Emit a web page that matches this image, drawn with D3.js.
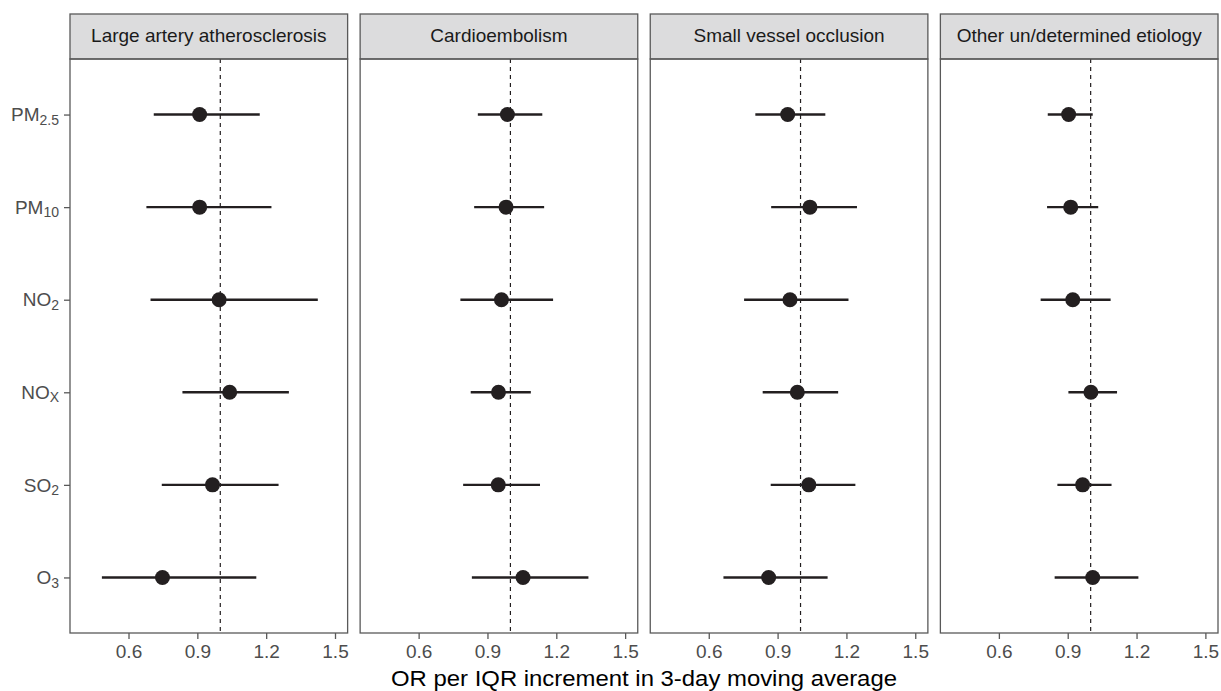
<!DOCTYPE html>
<html>
<head>
<meta charset="utf-8">
<script src="https://cdn.jsdelivr.net/npm/d3@7/dist/d3.min.js"></script>
<style>
  body { margin: 0; background: #fff; }
  text { font-family: "Liberation Sans", Arial, sans-serif; }
</style>
</head>
<body>
<div id="chart"></div>
<script>
// panels (stroke subtypes)
const panels = ["Large artery atherosclerosis", "Cardioembolism", "Small vessel occlusion", "Other un/determined etiology"];
// pollutants, top to bottom
const polBase = ["PM", "PM", "NO", "NO", "SO", "O"];
const polSub = ["2.5", "10", "2", "X", "2", "3"];

// OR estimates, one row per panel, same order as pollutants
const est = [
    [0.910, 0.910, 0.995, 1.041, 0.966, 0.748],
    [0.987, 0.981, 0.961, 0.948, 0.947, 1.055],
    [0.944, 1.041, 0.954, 0.986, 1.036, 0.861],
    [0.904, 0.913, 0.922, 1.001, 0.965, 1.009]
];
const lower = [
    [0.710, 0.678, 0.696, 0.835, 0.745, 0.484],
    [0.858, 0.842, 0.782, 0.827, 0.794, 0.832],
    [0.803, 0.872, 0.754, 0.835, 0.870, 0.664],
    [0.813, 0.810, 0.782, 0.903, 0.855, 0.843]
];
const upper = [
    [1.172, 1.223, 1.425, 1.299, 1.254, 1.157],
    [1.139, 1.147, 1.186, 1.089, 1.129, 1.340],
    [1.108, 1.246, 1.209, 1.164, 1.239, 1.118],
    [1.009, 1.033, 1.087, 1.115, 1.091, 1.208]
];
const xTicks = [0.6, 0.9, 1.2, 1.5];
const xTitle = "OR per IQR increment in 3-day moving average";

const W = 1221, H = 691;
const left = 70, right = 1218, gap = 12.5;
const stripTop = 14, stripBottom = 59, plotBottom = 633;
const pw = (right - left - gap * 3) / 4;

const svg = d3.select("#chart").append("svg")
    .attr("width", W)
    .attr("height", H);

const y = d3.scalePoint()
    .domain(d3.range(polBase.length))
    .range([stripBottom, plotBottom])
    .padding(0.6);

const borderCol = "#595959";
const ink = "#231f20";

panels.forEach((name, p) => {
    const x0 = left + p * (pw + gap);
    const x = d3.scaleLinear().domain([0.345, 1.555]).range([x0, x0 + pw]);

    const g = svg.append("g");

    // strip
    g.append("rect")
        .attr("x", x0).attr("y", stripTop)
        .attr("width", pw).attr("height", stripBottom - stripTop)
        .attr("fill", "#dcdcdd")
        .attr("stroke", borderCol).attr("stroke-width", 1.3);
    g.append("text")
        .attr("x", x0 + pw / 2).attr("y", 42)
        .attr("text-anchor", "middle")
        .attr("font-size", "19px")
        .attr("fill", "#1a1a1a")
        .text(name);

    // reference line
    g.append("line")
        .attr("x1", x(1)).attr("x2", x(1))
        .attr("y1", stripBottom).attr("y2", plotBottom)
        .attr("stroke", ink).attr("stroke-width", 1.2)
        .attr("stroke-dasharray", "4,4");

    // CIs
    g.selectAll(".ci")
        .data(d3.range(polBase.length))
        .enter()
        .append("line")
            .attr("x1", i => x(lower[p][i]))
            .attr("x2", i => x(upper[p][i]))
            .attr("y1", i => y(i))
            .attr("y2", i => y(i))
            .attr("stroke", ink)
            .attr("stroke-width", 2.4);

    g.selectAll(".pt")
        .data(d3.range(polBase.length))
        .enter()
        .append("circle")
            .attr("cx", i => x(est[p][i]))
            .attr("cy", i => y(i))
            .attr("r", 7.5)
            .attr("fill", ink);

    // panel border
    g.append("rect")
        .attr("x", x0).attr("y", stripBottom)
        .attr("width", pw).attr("height", plotBottom - stripBottom)
        .attr("fill", "none")
        .attr("stroke", borderCol).attr("stroke-width", 1.3);

    // x axis
    const ax = g.append("g")
        .attr("transform", `translate(0,${plotBottom})`)
        .call(d3.axisBottom(x).tickValues(xTicks).tickFormat(d3.format(".1f")).tickSize(6).tickPadding(5.5));
    ax.select(".domain").remove();
    ax.selectAll(".tick line").attr("stroke", borderCol).attr("stroke-width", 1.3);
    ax.selectAll(".tick text")
        .attr("font-size", "19px")
        .attr("fill", "#4d4d4d")
        .attr("font-family", "Liberation Sans, Arial, sans-serif");

    if (p === 0) {
        const ay = g.append("g")
            .attr("transform", `translate(${x0},0)`)
            .call(d3.axisLeft(y).tickSize(6).tickPadding(4).tickFormat(""));
        ay.select(".domain").remove();
        ay.selectAll(".tick line").attr("stroke", borderCol).attr("stroke-width", 1.3);
        ay.selectAll(".tick text").remove();

        const lab = g.selectAll(".ylab")
            .data(d3.range(polBase.length))
            .enter()
            .append("text")
                .attr("x", x0 - 11)
                .attr("y", i => y(i) + 6.7)
                .attr("text-anchor", "end")
                .attr("font-size", "19px")
                .attr("fill", "#4d4d4d");
        lab.append("tspan").text(i => polBase[i]);
        lab.append("tspan")
            .attr("font-size", "14px")
            .attr("dy", 3.5)
            .text(i => polSub[i]);
    }
});

svg.append("text")
    .attr("x", (left + right) / 2)
    .attr("y", 686)
    .attr("text-anchor", "middle")
    .attr("font-size", "22px")
    .attr("textLength", 506)
    .attr("lengthAdjust", "spacingAndGlyphs")
    .attr("fill", "#000")
    .text(xTitle);
</script>
</body>
</html>
